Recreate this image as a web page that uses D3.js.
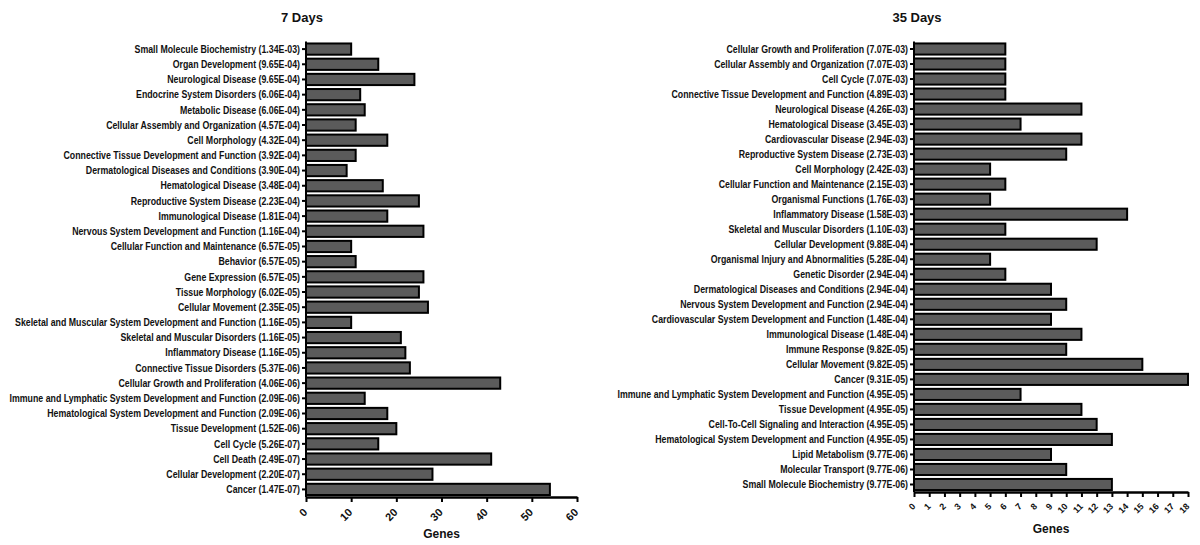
<!DOCTYPE html>
<html><head><meta charset="utf-8">
<script src="https://cdn.jsdelivr.net/npm/d3@7"></script>
<style>
body{margin:0;background:#fff;}
svg{display:block;}
.ylab{font-family:"Liberation Sans","Arial",sans-serif;font-weight:bold;font-size:11.5px;fill:#111;}
.xlab{font-family:"Liberation Sans","Arial",sans-serif;font-weight:bold;fill:#111;}
.title{font-family:"Liberation Sans","Arial",sans-serif;font-weight:bold;font-size:13px;fill:#111;}
.atitle{font-family:"Liberation Sans","Arial",sans-serif;font-weight:bold;font-size:12px;fill:#111;}
</style>
</head><body>
<svg id="c" width="1200" height="545"></svg>
<script>
const days7Categories = [
"Small Molecule Biochemistry (1.34E-03)",
"Organ Development (9.65E-04)",
"Neurological Disease (9.65E-04)",
"Endocrine System Disorders (6.06E-04)",
"Metabolic Disease (6.06E-04)",
"Cellular Assembly and Organization (4.57E-04)",
"Cell Morphology (4.32E-04)",
"Connective Tissue Development and Function (3.92E-04)",
"Dermatological Diseases and Conditions (3.90E-04)",
"Hematological Disease (3.48E-04)",
"Reproductive System Disease (2.23E-04)",
"Immunological Disease (1.81E-04)",
"Nervous System Development and Function (1.16E-04)",
"Cellular Function and Maintenance (6.57E-05)",
"Behavior (6.57E-05)",
"Gene Expression (6.57E-05)",
"Tissue Morphology (6.02E-05)",
"Cellular Movement (2.35E-05)",
"Skeletal and Muscular System Development and Function (1.16E-05)",
"Skeletal and Muscular Disorders (1.16E-05)",
"Inflammatory Disease (1.16E-05)",
"Connective Tissue Disorders (5.37E-06)",
"Cellular Growth and Proliferation (4.06E-06)",
"Immune and Lymphatic System Development and Function (2.09E-06)",
"Hematological System Development and Function (2.09E-06)",
"Tissue Development (1.52E-06)",
"Cell Cycle (5.26E-07)",
"Cell Death (2.49E-07)",
"Cellular Development (2.20E-07)",
"Cancer (1.47E-07)"
];
const days7Genes = [10,16,24,12,13,11,18,11,9,17,25,18,26,10,11,26,25,27,10,21,22,23,43,13,18,20,16,41,28,54];
const days7Ticks = [0,10,20,30,40,50,60];

const days35Categories = [
"Cellular Growth and Proliferation (7.07E-03)",
"Cellular Assembly and Organization (7.07E-03)",
"Cell Cycle (7.07E-03)",
"Connective Tissue Development and Function (4.89E-03)",
"Neurological Disease (4.26E-03)",
"Hematological Disease (3.45E-03)",
"Cardiovascular Disease (2.94E-03)",
"Reproductive System Disease (2.73E-03)",
"Cell Morphology (2.42E-03)",
"Cellular Function and Maintenance (2.15E-03)",
"Organismal Functions (1.76E-03)",
"Inflammatory Disease (1.58E-03)",
"Skeletal and Muscular Disorders (1.10E-03)",
"Cellular Development (9.88E-04)",
"Organismal Injury and Abnormalities (5.28E-04)",
"Genetic Disorder (2.94E-04)",
"Dermatological Diseases and Conditions (2.94E-04)",
"Nervous System Development and Function (2.94E-04)",
"Cardiovascular System Development and Function (1.48E-04)",
"Immunological Disease (1.48E-04)",
"Immune Response (9.82E-05)",
"Cellular Movement (9.82E-05)",
"Cancer (9.31E-05)",
"Immune and Lymphatic System Development and Function (4.95E-05)",
"Tissue Development (4.95E-05)",
"Cell-To-Cell Signaling and Interaction (4.95E-05)",
"Hematological System Development and Function (4.95E-05)",
"Lipid Metabolism (9.77E-06)",
"Molecular Transport (9.77E-06)",
"Small Molecule Biochemistry (9.77E-06)"
];
const days35Genes = [6,6,6,6,11,7,11,10,5,6,5,14,6,12,5,6,9,10,9,11,10,15,18,7,11,12,13,9,10,13];
const days35Ticks = [0,1,2,3,4,5,6,7,8,9,10,11,12,13,14,15,16,17,18];

const svg = d3.select("#c");
const SX = 0.765;

function panel(cfg){
  const g = svg.append("g");
  const x = d3.scaleLinear().domain([0, cfg.max]).range([cfg.x0, cfg.x1]);
  const y = d3.scaleBand().domain(cfg.cats).range([cfg.y0, cfg.y1]).paddingInner(0.26).paddingOuter(0.13);
  g.selectAll("rect.bar").data(cfg.vals).enter().append("rect")
    .attr("x", x(0))
    .attr("y", (d,i)=>y(cfg.cats[i]))
    .attr("width", d=>x(d)-x(0))
    .attr("height", y.bandwidth())
    .attr("fill","#5b5b5b").attr("stroke","#000").attr("stroke-width",2);
  const ya = g.append("g").attr("transform",`translate(${x(0)},0)`)
    .call(d3.axisLeft(y).tickSize(4).tickPadding(2));
  ya.select(".domain").attr("stroke","#000").attr("stroke-width",2).attr("d",`M0,${cfg.y0}V${cfg.y1}`);
  ya.selectAll(".tick line").attr("stroke","#000").attr("stroke-width",2);
  ya.selectAll(".tick text").attr("class","ylab").attr("font-family",null).attr("font-size",null)
    .attr("x", -6/SX).attr("transform",`scale(${SX},1)`);
  const xa = g.append("g").attr("transform",`translate(0,${cfg.y1})`)
    .call(d3.axisBottom(x).tickValues(cfg.ticks).tickSize(5).tickSizeOuter(0).tickFormat(d3.format("d")));
  xa.select(".domain").attr("stroke","#000").attr("stroke-width",2.5);
  xa.selectAll(".tick line").attr("stroke","#000").attr("stroke-width",2);
  xa.selectAll(".tick text").attr("class","xlab").attr("font-family",null).attr("font-size",null)
    .style("font-size", cfg.tfs+"px")
    .attr("text-anchor","end").attr("dy",null).attr("y",0)
    .attr("transform",`translate(${cfg.tdx},${cfg.tdy}) rotate(-45)`);
  g.append("text").attr("class","title").attr("x",cfg.tx).attr("y",22).attr("text-anchor","middle").text(cfg.title);
  g.append("text").attr("class","atitle").attr("x",(cfg.x0+cfg.x1)/2).attr("y",cfg.gy).attr("text-anchor","middle").text("Genes");
}

panel({cats:days7Categories, vals:days7Genes, ticks:days7Ticks, max:60,
  x0:306, x1:577, y0:41.5, y1:497, title:"7 Days", tx:302, gy:538, tfs:11, tdx:1.5, tdy:16});
panel({cats:days35Categories, vals:days35Genes, ticks:days35Ticks, max:18,
  x0:914, x1:1188, y0:41.5, y1:492, title:"35 Days", tx:917, gy:533, tfs:9, tdx:1.5, tdy:15});
</script>
</body></html>
